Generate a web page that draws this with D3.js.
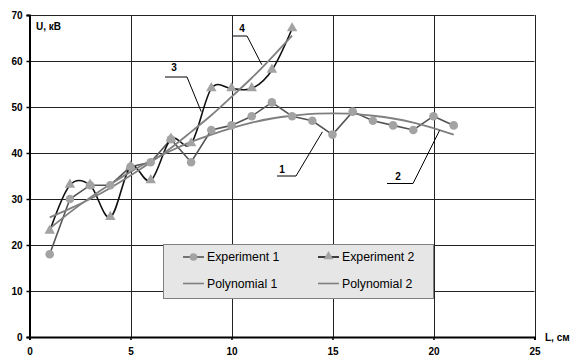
<!DOCTYPE html>
<html>
<head>
<meta charset="utf-8">
<script src="https://cdn.jsdelivr.net/npm/d3@7"></script>
<style>
  html, body { margin: 0; padding: 0; background: #fff; }
  svg { display: block; font-family: "Liberation Sans", Arial, sans-serif; }
</style>
</head>
<body>
<svg id="chart" width="571" height="356"></svg>
<script>
// Distance along the gap, cm
const lengths = [1, 2, 3, 4, 5, 6, 7, 8, 9, 10, 11, 12, 13, 14, 15, 16, 17, 18, 19, 20, 21];
// Breakdown voltage, kV
const experiment1 = [18, 30, 33, 33, 37, 38, 43, 38, 45, 46, 48, 51, 48, 47, 44, 49, 47, 46, 45, 48, 46];
const experiment2 = [23, 33, 33, 26, 37, 34, 43, 42, 54, 54, 54, 58, 67];
// Second-order trend lines, sampled at each length
const polynomial1 = [23.6, 27.1, 30.3, 33.2, 35.9, 38.3, 40.5, 42.4, 44.0, 45.4, 46.6,
                     47.5, 48.1, 48.5, 48.6, 48.5, 48.1, 47.5, 46.6, 45.4, 44.0];
const polynomial2 = [26.0, 27.9, 30.0, 32.4, 35.1, 38.0, 41.1, 44.6, 48.2, 52.2, 56.3, 60.8, 65.5];
const xTicks = [0, 5, 10, 15, 20, 25];
const yTicks = [0, 10, 20, 30, 40, 50, 60, 70];
const legendNames = ["Experiment 1", "Experiment 2", "Polynomial 1", "Polynomial 2"];
// Curve numbers shown beside the callout leaders
const calloutNumbers = ["1", "2", "3", "4"];

const svg = d3.select("#chart");
const x = d3.scaleLinear().domain([0, 25]).range([29.5, 534.5]);
const y = d3.scaleLinear().domain([0, 70]).range([337, 15]);

const pts = (vals) => vals.map((v, i) => [lengths[i], v]);

// grid
const grid = svg.append("g");
grid.selectAll("line.h").data(yTicks.slice(1)).join("line")
  .attr("x1", x(0)).attr("x2", x(25))
  .attr("y1", d => Math.round(y(d)) + 0.5).attr("y2", d => Math.round(y(d)) + 0.5)
  .attr("stroke", "#222").attr("stroke-width", 1);
grid.selectAll("line.v").data(xTicks.slice(1)).join("line")
  .attr("y1", y(0)).attr("y2", y(70))
  .attr("x1", d => Math.round(x(d)) + 0.5).attr("x2", d => Math.round(x(d)) + 0.5)
  .attr("stroke", "#222").attr("stroke-width", 1);

// axes
const xAxis = svg.append("g").attr("transform", `translate(0,${y(0)})`)
  .call(d3.axisBottom(x).tickValues(xTicks).tickSize(3).tickPadding(8).tickFormat(d3.format("d")));
const yAxis = svg.append("g").attr("transform", `translate(${x(0)},0)`)
  .call(d3.axisLeft(y).tickValues(yTicks).tickSize(3).tickPadding(4).tickFormat(d3.format("d")));
[xAxis, yAxis].forEach(a => {
  a.select(".domain").attr("stroke", "#000").attr("stroke-width", 2);
  a.selectAll(".tick line").attr("stroke", "#000").attr("stroke-width", 1.5);
  a.selectAll(".tick text").attr("fill", "#000").style("font-size", "10px").style("font-weight", "bold")
    .style("font-family", "'Liberation Sans', Arial, sans-serif");
});

// axis titles
svg.append("text").attr("x", 36).attr("y", 30).text("U, кВ")
  .style("font-size", "10px").style("font-weight", "bold");
svg.append("text").attr("x", 545).attr("y", 341).text("L, см")
  .style("font-size", "10px").style("font-weight", "bold");

const line = d3.line().x(d => x(d[0])).y(d => y(d[1]));
const smooth = d3.line().x(d => x(d[0])).y(d => y(d[1])).curve(d3.curveCatmullRom.alpha(0));
const trend = d3.line().x(d => x(d[0])).y(d => y(d[1])).curve(d3.curveNatural);

// experiment 1: straight segments
svg.append("path").attr("d", line(pts(experiment1)))
  .attr("fill", "none").attr("stroke", "#555").attr("stroke-width", 1.6);
// experiment 2: smoothed line
svg.append("path").attr("d", smooth(pts(experiment2)))
  .attr("fill", "none").attr("stroke", "#111").attr("stroke-width", 1.6);

// trend lines
svg.append("path").attr("d", trend(pts(polynomial1)))
  .attr("fill", "none").attr("stroke", "#7f7f7f").attr("stroke-width", 1.8);
svg.append("path").attr("d", trend(pts(polynomial2)))
  .attr("fill", "none").attr("stroke", "#7f7f7f").attr("stroke-width", 1.8);

// markers
const tri = d3.symbol().type(d3.symbolTriangle).size(48);
svg.append("g").selectAll("path").data(pts(experiment2)).join("path")
  .attr("d", tri).attr("transform", d => `translate(${x(d[0])},${y(d[1]) - 0.5})`)
  .attr("fill", "#a3a3a3");
svg.append("g").selectAll("circle").data(pts(experiment1)).join("circle")
  .attr("cx", d => x(d[0])).attr("cy", d => y(d[1])).attr("r", 4.3)
  .attr("fill", "#a3a3a3");

// callouts: number, leader from a short shelf to a point on its curve (L, U)
const callouts = [
  { label: calloutNumbers[0], anchor: [14.5, 44.6], tx: 282, ty: 173, hx: [277, 296], hy: 176 },
  { label: calloutNumbers[1], anchor: [20.3, 44.9], tx: 398, ty: 180, hx: [387, 413], hy: 183.5 },
  { label: calloutNumbers[2], anchor: [8.5, 49.0], tx: 174, ty: 71, hx: [165, 187], hy: 77 },
  { label: calloutNumbers[3], anchor: [11.5, 59.2], tx: 242, ty: 32, hx: [233, 247], hy: 36 }
];
callouts.forEach(c => {
  svg.append("polyline")
    .attr("points", [[c.hx[0], c.hy], [c.hx[1], c.hy], [x(c.anchor[0]), y(c.anchor[1])]].map(p => p.join(",")).join(" "))
    .attr("fill", "none").attr("stroke", "#000").attr("stroke-width", 1);
  svg.append("text").attr("x", c.tx).attr("y", c.ty).attr("text-anchor", "middle")
    .text(c.label).style("font-size", "10px").style("font-weight", "bold");
});

// legend
const lg = svg.append("g");
lg.append("rect").attr("x", 163.5).attr("y", 244.5).attr("width", 270).attr("height", 54)
  .attr("fill", "#e6e6e6").attr("stroke", "#808080").attr("stroke-width", 1);
const legendItems = [
  { name: legendNames[0], col: 0, row: 0, stroke: "#555", mark: "circle" },
  { name: legendNames[1], col: 1, row: 0, stroke: "#111", mark: "triangle" },
  { name: legendNames[2], col: 0, row: 1, stroke: "#7f7f7f", mark: null },
  { name: legendNames[3], col: 1, row: 1, stroke: "#7f7f7f", mark: null }
];
legendItems.forEach(it => {
  const x0 = it.col === 0 ? 183 : 318;
  const yy = it.row === 0 ? 257 : 283.5;
  lg.append("line").attr("x1", x0).attr("x2", x0 + 21).attr("y1", yy).attr("y2", yy)
    .attr("stroke", it.stroke).attr("stroke-width", 1.6);
  if (it.mark === "circle") {
    lg.append("circle").attr("cx", x0 + 10.5).attr("cy", yy).attr("r", 3.8).attr("fill", "#a3a3a3");
  } else if (it.mark === "triangle") {
    lg.append("path").attr("d", d3.symbol().type(d3.symbolTriangle).size(40))
      .attr("transform", `translate(${x0 + 10.5},${yy - 0.5})`).attr("fill", "#a3a3a3");
  }
  lg.append("text").attr("x", x0 + 24).attr("y", yy + 4.3).text(it.name)
    .style("font-size", "12.3px").attr("fill", "#000");
});
</script>
</body>
</html>
